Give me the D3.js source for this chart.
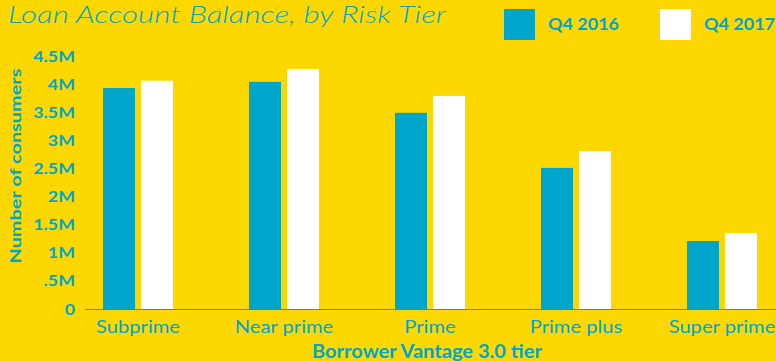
<!DOCTYPE html>
<html><head><meta charset="utf-8">
<script src="https://cdn.jsdelivr.net/npm/d3@7"></script>
<style>
html,body{margin:0;padding:0;background:#FDD800;}
svg{display:block;}
text{font-family:Lato,"Open Sans",sans-serif;fill:#00A5CC;}
</style></head>
<body><svg id="c" width="776" height="361"></svg>
<script>
const categories = ["Subprime","Near prime","Prime","Prime plus","Super prime"];
const seriesNames = ["Q4 2016","Q4 2017"];
const q4_2016 = [3.93e6, 4.04e6, 3.49e6, 2.51e6, 1.21e6];
const q4_2017 = [4.06e6, 4.27e6, 3.79e6, 2.81e6, 1.35e6];
const yTicks = [0,0.5e6,1e6,1.5e6,2e6,2.5e6,3e6,3.5e6,4e6,4.5e6];
const yTickLabels = ["0",".5M","1M","1.5M","2M","2.5M","3M","3.5M","4M","4.5M"];
const colors = ["#00A5CC","#FFFFFF"];
const blue = "#00A5CC";

const svg = d3.select("#c");
svg.append("rect").attr("width",776).attr("height",361).attr("fill","#FDD800");

function widen(sel, factor){
  sel.each(function(){
    const w = this.getComputedTextLength();
    d3.select(this).attr("textLength", w*factor).attr("lengthAdjust","spacingAndGlyphs");
  });
}
function fitTo(sel, width){
  sel.attr("textLength", width).attr("lengthAdjust","spacingAndGlyphs");
}

const y = d3.scaleLinear().domain([0,4.5e6]).range([309,56]);
const x0 = d3.scaleBand().domain(categories).range([65,795]).padding(0);
const x1 = d3.scaleBand().domain(seriesNames).range([x0.bandwidth()/2-35, x0.bandwidth()/2+35]).paddingInner(0.158);

const data = categories.map((c,i)=>({cat:c, vals:[q4_2016[i], q4_2017[i]]}));

const g = svg.append("g");
const groups = g.selectAll("g.cat").data(data).join("g").attr("transform",d=>`translate(${x0(d.cat)},0)`);
groups.selectAll("rect").data(d=>d.vals.map((v,j)=>({s:seriesNames[j],v,j}))).join("rect")
  .attr("x",d=>x1(d.s)).attr("width",x1.bandwidth())
  .attr("y",d=>y(d.v)).attr("height",d=>y(0)-y(d.v))
  .attr("fill",d=>colors[d.j]);

svg.append("line").attr("x1",85).attr("x2",776).attr("y1",309.5).attr("y2",309.5)
  .attr("stroke",blue).attr("stroke-width",1.2);

const yt = svg.append("g").selectAll("text").data(yTicks).join("text")
  .attr("x",75).attr("y",d=>y(d)).attr("dy","0.36em")
  .attr("text-anchor","end").attr("font-size",15.5).attr("font-weight",700)
  .text((d,i)=>yTickLabels[i]);
widen(yt, 1.15);

const xl = svg.append("g").selectAll("text").data(categories).join("text")
  .attr("x",d=>x0(d)+x0.bandwidth()/2).attr("y",333)
  .attr("text-anchor","middle").attr("font-size",18)
  .text(d=>d);
widen(xl, 1.12);

const xt = svg.append("text").attr("x",427).attr("y",358).attr("text-anchor","middle")
  .attr("font-size",18).attr("font-weight",700).text("Borrower Vantage 3.0 tier");
fitTo(xt, 230);
const ytt = svg.append("text").attr("transform","translate(21,166) rotate(-90)").attr("text-anchor","middle")
  .attr("font-size",16).attr("font-weight",700).text("Number of consumers");
fitTo(ytt, 195);

const tt = svg.append("text").attr("x",8).attr("y",23).attr("font-size",23).attr("font-style","italic")
  .attr("font-weight",300).text("Loan Account Balance, by Risk Tier");
fitTo(tt, 438);

const leg = svg.append("g");
const legX = [504, 660];
seriesNames.forEach((s,i)=>{
  leg.append("rect").attr("x",legX[i]).attr("y",9).attr("width",31).attr("height",31).attr("fill",colors[i]);
  const t = leg.append("text").attr("x",legX[i]+44).attr("y",29.5).attr("font-size",17.5).attr("font-weight",700).text(s);
  fitTo(t, 71);
});
</script></body></html>
